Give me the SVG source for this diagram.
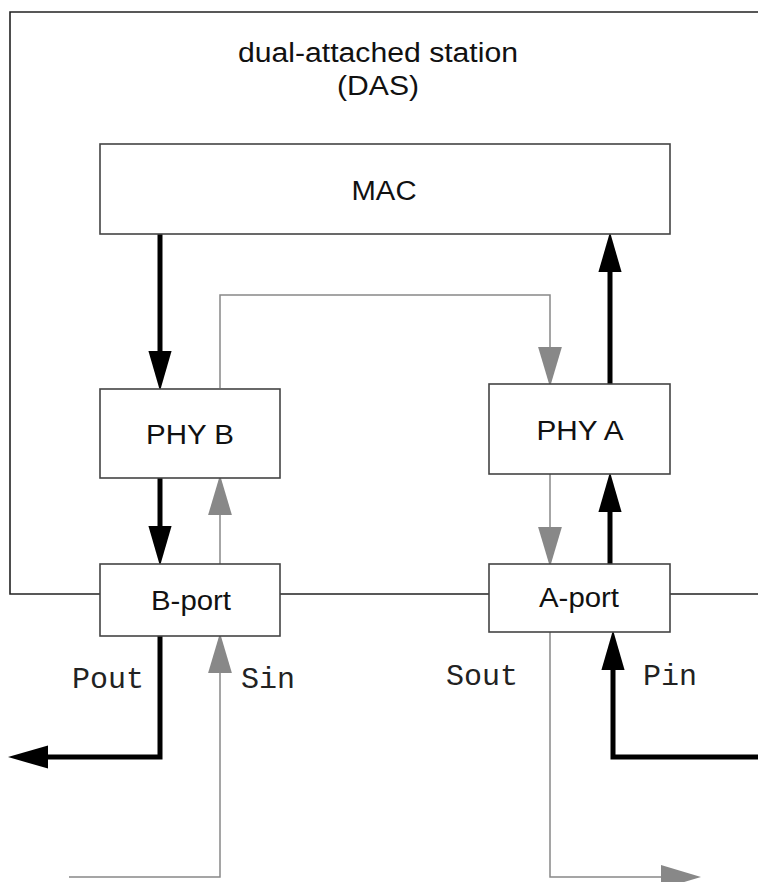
<svg xmlns="http://www.w3.org/2000/svg" width="758" height="882" viewBox="0 0 758 882">
<style>
.box{fill:#fff;stroke:#444;stroke-width:1.6}
.frame{fill:none;stroke:#222;stroke-width:1.6}
.lbl{font-family:"Liberation Sans",Arial,sans-serif;font-size:27px;fill:#111;text-anchor:middle}
.mono{font-family:"Liberation Mono","Courier New",monospace;font-size:30px;fill:#222}
.blk{fill:none;stroke:#000;stroke-width:5}
.gry{fill:none;stroke:#888;stroke-width:1.5}
</style>
<defs>
<marker id="ab" markerUnits="userSpaceOnUse" markerWidth="40" markerHeight="24" viewBox="0 0 38 22" refX="0" refY="11" orient="auto">
<path d="M0,0 L38,11 L0,22 Z" fill="#000"/>
</marker>
<marker id="ag" markerUnits="userSpaceOnUse" markerWidth="40" markerHeight="24" viewBox="0 0 37 22" refX="0" refY="11" orient="auto">
<path d="M0,0 L37,11 L0,22 Z" fill="#888"/>
</marker>
</defs>
<rect width="758" height="882" fill="#fff"/>
<g id="station-frame">
<path class="frame" d="M758,12 H10 V594 H100 M280,594 H489 M670,594 H758"/>
<text class="lbl" x="378" y="62" textLength="280" lengthAdjust="spacingAndGlyphs">dual-attached station</text>
<text class="lbl" x="378" y="95" textLength="82" lengthAdjust="spacingAndGlyphs">(DAS)</text>
</g>
<g id="connectors">
<path class="blk" d="M160,234 V351" marker-end="url(#ab)"/>
<path class="blk" d="M610,474 V272" marker-end="url(#ab)"/>
<path class="gry" d="M220,388 V295 H550 V347" marker-end="url(#ag)"/>
<path class="blk" d="M160,478 V526" marker-end="url(#ab)"/>
<path class="gry" d="M220,564 V515" marker-end="url(#ag)"/>
<path class="gry" d="M550,474 V527" marker-end="url(#ag)"/>
<path class="blk" d="M610,564 V512" marker-end="url(#ab)"/>
<path class="blk" d="M160,636 V757 H48" marker-end="url(#ab)"/>
<path class="gry" d="M69,877 H220 V673" marker-end="url(#ag)"/>
<path class="gry" d="M550,632 V877 H661" marker-end="url(#ag)"/>
<path class="blk" d="M758,757 H613 V670" marker-end="url(#ab)"/>
<text class="mono" x="72" y="688">Pout</text>
<text class="mono" x="241" y="688">Sin</text>
<text class="mono" x="446" y="685">Sout</text>
<text class="mono" x="643" y="685">Pin</text>
</g>
<g id="mac">
<rect class="box" x="100" y="144" width="570" height="90"/>
<text class="lbl" x="384" y="200" textLength="65" lengthAdjust="spacingAndGlyphs">MAC</text>
</g>
<g id="phy-b">
<rect class="box" x="100" y="389" width="180" height="89"/>
<text class="lbl" x="190" y="444" textLength="88" lengthAdjust="spacingAndGlyphs">PHY B</text>
</g>
<g id="phy-a">
<rect class="box" x="489" y="384" width="181" height="90"/>
<text class="lbl" x="580" y="440" textLength="87" lengthAdjust="spacingAndGlyphs">PHY A</text>
</g>
<g id="b-port">
<rect class="box" x="100" y="564" width="180" height="72"/>
<text class="lbl" x="191" y="610" textLength="80" lengthAdjust="spacingAndGlyphs">B-port</text>
</g>
<g id="a-port">
<rect class="box" x="489" y="564" width="181" height="68"/>
<text class="lbl" x="579" y="607" textLength="80" lengthAdjust="spacingAndGlyphs">A-port</text>
</g>
</svg>
